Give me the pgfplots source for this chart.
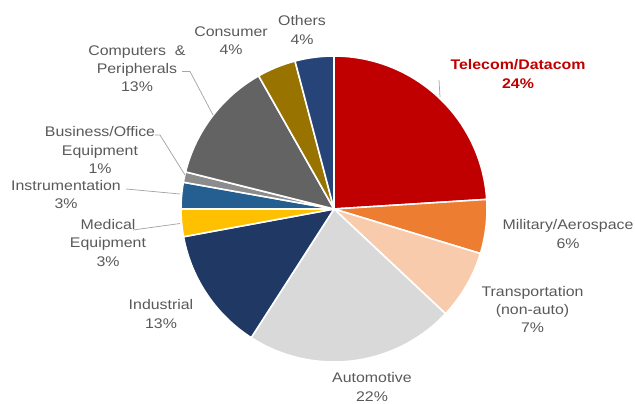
\documentclass[border=0pt]{standalone}
\usepackage{pgfplots}
\pgfplotsset{compat=1.18}
\usepackage{pgfplotstable}
\usepackage{fontspec}
\setmainfont{Liberation Sans}[FakeStretch=1.14]
\definecolor{cTel}{HTML}{C00000}
\definecolor{cMil}{HTML}{ED7D31}
\definecolor{cTra}{HTML}{F8CBAD}
\definecolor{cAut}{HTML}{D9D9D9}
\definecolor{cInd}{HTML}{203864}
\definecolor{cMed}{HTML}{FFC000}
\definecolor{cIns}{HTML}{255E91}
\definecolor{cBus}{HTML}{8C8C8C}
\definecolor{cCom}{HTML}{636363}
\definecolor{cCon}{HTML}{997300}
\definecolor{cOth}{HTML}{264478}
\definecolor{lblgray}{HTML}{595959}
\definecolor{leader}{HTML}{A6A6A6}
\tikzset{lbl/.style={text=lblgray, align=center, inner sep=0pt, font={\fontsize{14}{18.3}\selectfont}}}
\pgfplotstableread{
label value color
Telecom/Datacom 24.0 cTel
Military/Aerospace 5.7 cMil
Transportation 7.3 cTra
Automotive 22.1 cAut
Industrial 13.0 cInd
Medical 2.9 cMed
Instrumentation 2.8 cIns
Business/Office 1.1 cBus
Computers 12.9 cCom
Consumer 4.1 cCon
Others 4.1 cOth
}\piedata
\begin{document}
\begin{tikzpicture}
\begin{axis}[
  x=1bp, y=1bp,
  xmin=0, xmax=635, ymin=0, ymax=403,
  hide axis, clip=false,
]
\path (rel axis cs:0,0) rectangle (rel axis cs:1,1);
\def\cx{334}\def\cy{194}\def\rr{153}
\gdef\cum{90}
\pgfplotsforeachungrouped \i in {0,...,10}{%
  \pgfplotstablegetelem{\i}{value}\of\piedata \let\v\pgfplotsretval
  \pgfplotstablegetelem{\i}{color}\of\piedata \let\c\pgfplotsretval
  \pgfmathsetmacro{\a}{\cum-3.6*\v}%
  \edef\temp{\noexpand\addplot[fill=\c, draw=white, line width=1.6pt, line join=round, domain=\a:\cum, samples=80, variable=\noexpand\t] ({\cx+\rr*cos(\noexpand\t)},{\cy+\rr*sin(\noexpand\t)}) -- (axis cs:\cx,\cy) -- cycle;}%
  \temp
  \xdef\cum{\a}%
}
% leader lines
\draw[leader, line width=0.75pt] (axis cs:439,323) -- (axis cs:440,306);
\draw[leader, line width=0.75pt] (axis cs:182,331.5) -- (axis cs:190,331.5) -- (axis cs:213,288);
\draw[leader, line width=0.75pt] (axis cs:155,268) -- (axis cs:160,268) -- (axis cs:185,228);
\draw[leader, line width=0.75pt] (axis cs:126,214) -- (axis cs:180,209);
\draw[leader, line width=0.75pt] (axis cs:133,173) -- (axis cs:180,179.5);
% labels
\node[lbl, text=cTel, font={\fontsize{14}{18.3}\selectfont\bfseries}] at (axis cs:518,329) {Telecom/Datacom\\24\%};
\node[lbl] at (axis cs:568,169) {Military/Aerospace\\6\%};
\node[lbl] at (axis cs:532.5,93.5) {Transportation\\(non-auto)\\7\%};
\node[lbl] at (axis cs:372,16) {Automotive\\22\%};
\node[lbl] at (axis cs:161,89) {Industrial\\13\%};
\node[lbl] at (axis cs:108,160) {Medical\\Equipment\\3\%};
\node[lbl] at (axis cs:66,208.5) {Instrumentation\\3\%};
\node[lbl] at (axis cs:100,253) {Business/Office\\Equipment\\1\%};
\node[lbl] at (axis cs:137,334.5) {Computers \ \&\\Peripherals\\13\%};
\node[lbl] at (axis cs:231,362.5) {Consumer\\4\%};
\node[lbl] at (axis cs:302,373) {Others\\4\%};
\end{axis}
\end{tikzpicture}
\end{document}
